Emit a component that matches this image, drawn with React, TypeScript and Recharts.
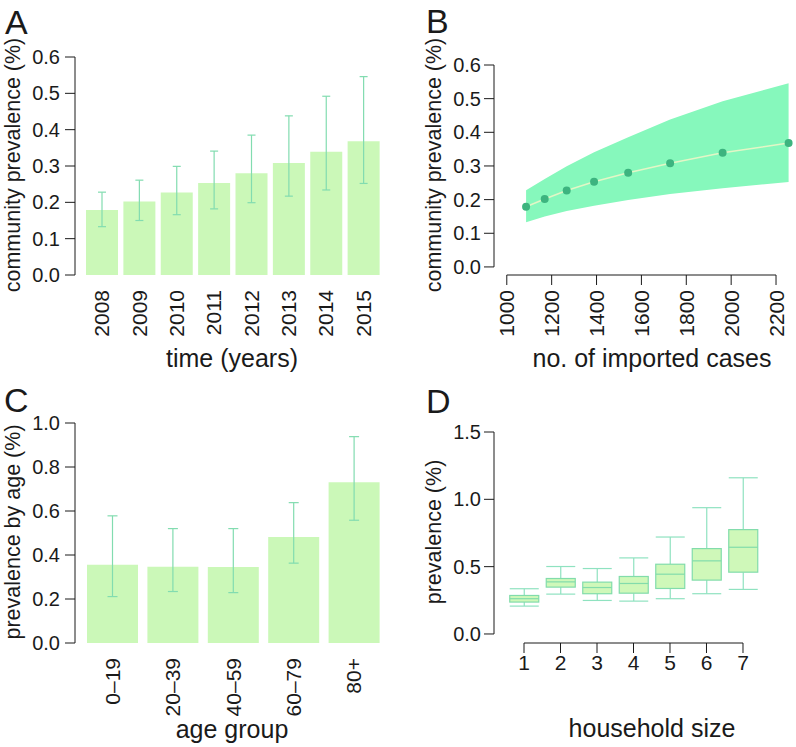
import React from 'react';
import {
  BarChart,
  Bar,
  ErrorBar,
  ComposedChart,
  Area,
  Line,
  XAxis,
  YAxis,
  ReferenceLine,
} from 'recharts';

const FONT = '"Liberation Sans", Arial, Helvetica, sans-serif';
const INK = '#1a1a1a';
const BAR_FILL = '#cbf8b8';
const ERR = '#82dcb0';
const BAND = '#86f8bc';
const DOT = '#3db47f';
const MEAN_LINE = '#e3f6c6';
const BOX_FILL = '#cff8b9';
const BOX_STROKE = '#82dcab';
const WHISKER = '#8fe2c0';

// A + B: community prevalence per year, and against imported cases
const years = ['2008', '2009', '2010', '2011', '2012', '2013', '2014', '2015'];
const prevMean = [0.179, 0.202, 0.227, 0.253, 0.28, 0.308, 0.339, 0.368];
const prevLow = [0.133, 0.15, 0.166, 0.182, 0.199, 0.217, 0.234, 0.252];
const prevHigh = [0.228, 0.261, 0.299, 0.341, 0.385, 0.438, 0.492, 0.546];
const importedCases = [1086, 1169, 1267, 1389, 1541, 1728, 1962, 2256];
const prevTicks = [0, 0.1, 0.2, 0.3, 0.4, 0.5, 0.6];
const casesTicks = [1000, 1200, 1400, 1600, 1800, 2000, 2200];

// C: prevalence by age
const ageGroups = ['0–19', '20–39', '40–59', '60–79', '80+'];
const ageMean = [0.356, 0.347, 0.345, 0.482, 0.731];
const ageLow = [0.211, 0.234, 0.229, 0.363, 0.558];
const ageHigh = [0.578, 0.52, 0.52, 0.638, 0.938];
const ageTicks = [0, 0.2, 0.4, 0.6, 0.8, 1.0];

// D: prevalence by household size (box plots)
const householdSize = [1, 2, 3, 4, 5, 6, 7];
const hhMin = [0.207, 0.296, 0.249, 0.244, 0.262, 0.299, 0.331];
const hhQ1 = [0.237, 0.348, 0.299, 0.303, 0.338, 0.4, 0.459];
const hhMedian = [0.262, 0.387, 0.345, 0.375, 0.444, 0.543, 0.644];
const hhQ3 = [0.286, 0.412, 0.385, 0.427, 0.518, 0.634, 0.775];
const hhMax = [0.336, 0.501, 0.486, 0.565, 0.72, 0.938, 1.16];
const hhTicks = [0, 0.5, 1.0, 1.5];

const rowsA = years.map((year, i) => ({
  year,
  mean: prevMean[i],
  err: [prevMean[i] - prevLow[i], prevHigh[i] - prevMean[i]],
}));

const rowsB = importedCases.map((cases, i) => ({
  cases,
  mean: prevMean[i],
  band: [prevLow[i], prevHigh[i]],
}));

const rowsC = ageGroups.map((age, i) => ({
  age,
  mean: ageMean[i],
  err: [ageMean[i] - ageLow[i], ageHigh[i] - ageMean[i]],
}));

const rowsD = householdSize.map((size, i) => ({
  size,
  box: [hhQ1[i], hhQ3[i]],
  min: hhMin[i],
  q1: hhQ1[i],
  median: hhMedian[i],
  q3: hhQ3[i],
  max: hhMax[i],
}));

// axis domains widened a little, R style, so the axes sit apart
const bXDomain = [943, 2289];
const bYDomain = [-0.024, 0.6];
const dXDomain = [0.178, 7.822];
const dYDomain = [-0.067, 1.5];

const txt = { fontFamily: FONT, fill: INK };

const YTick = (props: any) => {
  const { x, y, payload } = props;
  return (
    <text x={x} y={y} textAnchor="end" dominantBaseline="central" fontSize={20} {...txt}>
      {Number(payload.value).toFixed(1)}
    </text>
  );
};

const RotatedTick = (props: any) => {
  const { x, y, payload } = props;
  return (
    <text
      x={x}
      y={y}
      transform={`rotate(-90 ${x} ${y})`}
      textAnchor="end"
      dominantBaseline="central"
      fontSize={21}
      {...txt}
    >
      {payload.value}
    </text>
  );
};

const FlatTick = (props: any) => {
  const { x, y, payload } = props;
  return (
    <text x={x} y={y + 15} textAnchor="middle" fontSize={21} {...txt}>
      {payload.value}
    </text>
  );
};

const xTitle = (text: string, cx: number, cy: number) => () => (
  <text x={cx} y={cy} textAnchor="middle" dominantBaseline="central" fontSize={25} {...txt}>
    {text}
  </text>
);

// y title plus the panel letter
const yTitle = (text: string, cx: number, cy: number, letter: string, lx: number, ly: number) => () => (
  <g>
    <text
      x={cx}
      y={cy}
      transform={`rotate(-90 ${cx} ${cy})`}
      textAnchor="middle"
      dominantBaseline="central"
      fontSize={21.5}
      {...txt}
    >
      {text}
    </text>
    <text x={lx} y={ly} fontSize={34} {...txt}>
      {letter}
    </text>
  </g>
);

const BoxShape = (props: any) => {
  const { x, y, width, height, payload } = props;
  const top = Math.min(y, y + height);
  const h = Math.abs(height);
  const bottom = top + h;
  // px per unit, taken from the bar the library laid out
  const k = h / (payload.q3 - payload.q1);
  const py = (v: number) => bottom - (v - payload.q1) * k;
  const cx = x + width / 2;
  const yMax = py(payload.max);
  const yMin = py(payload.min);
  const yMed = py(payload.median);
  return (
    <g>
      <line x1={cx} x2={cx} y1={yMax} y2={top} stroke={WHISKER} strokeWidth={1.2} />
      <line x1={cx} x2={cx} y1={bottom} y2={yMin} stroke={WHISKER} strokeWidth={1.2} />
      <line x1={x} x2={x + width} y1={yMax} y2={yMax} stroke={WHISKER} strokeWidth={1.2} />
      <line x1={x} x2={x + width} y1={yMin} y2={yMin} stroke={WHISKER} strokeWidth={1.2} />
      <rect x={x} y={top} width={width} height={h} fill={BOX_FILL} stroke={BOX_STROKE} strokeWidth={1.2} />
      <line x1={x} x2={x + width} y1={yMed} y2={yMed} stroke={BOX_STROKE} strokeWidth={1.2} />
    </g>
  );
};

const App = () => {
  return (
    <div style={{ position: 'absolute', left: 0, top: 0, width: 796, height: 747, background: '#fff' }}>
      <div style={{ position: 'absolute', left: 0, top: 0 }}>
        <BarChart width={400} height={380} data={rowsA} margin={{ top: 57, right: 18, bottom: 0, left: 0 }}>
          <XAxis
            dataKey="year"
            interval={0}
            axisLine={false}
            tickLine={false}
            tickSize={0}
            tickMargin={15}
            padding={{ left: 8, right: 0 }}
            height={105}
            tick={RotatedTick}
            label={xTitle('time (years)', 232, 358)}
          />
          <YAxis
            type="number"
            domain={[0, 0.6]}
            ticks={prevTicks}
            width={75}
            tickSize={10}
            tickMargin={5}
            axisLine={{ stroke: INK }}
            tickLine={{ stroke: INK }}
            tick={YTick}
            label={yTitle('community prevalence (%)', 13, 165, 'A', 5, 34)}
          />
          <Bar dataKey="mean" fill={BAR_FILL} barSize={32} isAnimationActive={false}>
            <ErrorBar dataKey="err" width={4} stroke={ERR} strokeWidth={1.2} direction="y" />
          </Bar>
        </BarChart>
      </div>

      <div style={{ position: 'absolute', left: 400, top: 0 }}>
        <ComposedChart width={396} height={380} data={rowsB} margin={{ top: 65, right: 0, bottom: 0, left: 0 }}>
          <XAxis
            dataKey="cases"
            type="number"
            domain={bXDomain}
            ticks={casesTicks}
            interval={0}
            axisLine={false}
            tickLine={{ stroke: INK }}
            tickSize={10}
            tickMargin={5}
            height={105}
            tick={RotatedTick}
            label={xTitle('no. of imported cases', 252, 358)}
          />
          <YAxis
            type="number"
            domain={bYDomain}
            ticks={prevTicks}
            width={94}
            axisLine={false}
            tickLine={{ stroke: INK }}
            tickSize={10}
            tickMargin={3}
            tick={YTick}
            label={yTitle('community prevalence (%)', 34, 165, 'B', 26, 33)}
          />
          <Area dataKey="band" type="linear" fill={BAND} fillOpacity={1} stroke="none" isAnimationActive={false} />
          <Line
            dataKey="mean"
            type="linear"
            stroke={MEAN_LINE}
            strokeWidth={1.5}
            dot={{ r: 4, fill: DOT, stroke: 'none' }}
            activeDot={false}
            isAnimationActive={false}
          />
          <ReferenceLine
            segment={[{ x: casesTicks[0], y: bYDomain[0] }, { x: casesTicks[casesTicks.length - 1], y: bYDomain[0] }]}
            stroke={INK}
            ifOverflow="visible"
          />
          <ReferenceLine
            segment={[{ x: bXDomain[0], y: prevTicks[0] }, { x: bXDomain[0], y: prevTicks[prevTicks.length - 1] }]}
            stroke={INK}
            ifOverflow="visible"
          />
        </ComposedChart>
      </div>

      <div style={{ position: 'absolute', left: 0, top: 370 }}>
        <BarChart width={400} height={377} data={rowsC} margin={{ top: 53, right: 16, bottom: 0, left: 0 }}>
          <XAxis
            dataKey="age"
            interval={0}
            axisLine={false}
            tickLine={false}
            tickSize={0}
            tickMargin={15}
            padding={{ left: 7, right: 0 }}
            height={104}
            tick={RotatedTick}
            label={xTitle('age group', 232, 359)}
          />
          <YAxis
            type="number"
            domain={[0, 1]}
            ticks={ageTicks}
            width={75}
            tickSize={10}
            tickMargin={5}
            axisLine={{ stroke: INK }}
            tickLine={{ stroke: INK }}
            tick={YTick}
            label={yTitle('prevalence by age (%)', 13, 162, 'C', 4, 42)}
          />
          <Bar dataKey="mean" fill={BAR_FILL} barSize={51} isAnimationActive={false}>
            <ErrorBar dataKey="err" width={5} stroke={ERR} strokeWidth={1.2} direction="y" />
          </Bar>
        </BarChart>
      </div>

      <div style={{ position: 'absolute', left: 400, top: 370 }}>
        <ComposedChart width={396} height={377} data={rowsD} margin={{ top: 62, right: 23, bottom: 0, left: 0 }}>
          <XAxis
            dataKey="size"
            type="number"
            domain={dXDomain}
            ticks={householdSize}
            interval={0}
            axisLine={false}
            tickLine={{ stroke: INK }}
            tickSize={10}
            tickMargin={2}
            height={104}
            tick={FlatTick}
            label={xTitle('household size', 252, 358)}
          />
          <YAxis
            type="number"
            domain={dYDomain}
            ticks={hhTicks}
            width={94}
            axisLine={false}
            tickLine={{ stroke: INK }}
            tickSize={10}
            tickMargin={3}
            tick={YTick}
            label={yTitle('prevalence (%)', 34, 162, 'D', 26, 43)}
          />
          <Bar dataKey="box" barSize={29} shape={BoxShape} isAnimationActive={false} />
          <ReferenceLine
            segment={[{ x: householdSize[0], y: dYDomain[0] }, { x: householdSize[householdSize.length - 1], y: dYDomain[0] }]}
            stroke={INK}
            ifOverflow="visible"
          />
          <ReferenceLine
            segment={[{ x: dXDomain[0], y: hhTicks[0] }, { x: dXDomain[0], y: hhTicks[hhTicks.length - 1] }]}
            stroke={INK}
            ifOverflow="visible"
          />
        </ComposedChart>
      </div>
    </div>
  );
};

export default App;
